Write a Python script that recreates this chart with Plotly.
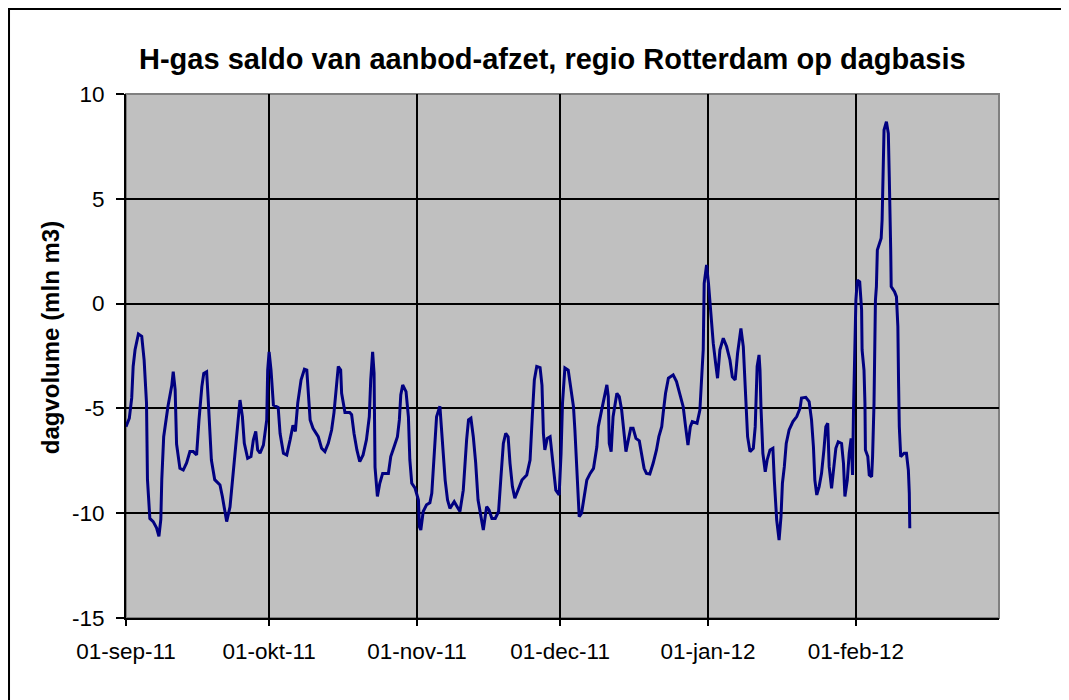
import pandas as pd
import plotly.graph_objects as go

start = pd.Timestamp("2011-09-01")

days = [
    0.0, 0.7, 1.2, 1.5, 1.9, 2.6, 3.3, 3.8, 4.3, 4.5, 5.0, 5.7, 6.4, 6.9, 7.3, 7.5, 7.9, 8.8, 9.6, 9.9,
    10.3, 10.6, 11.3, 12.0, 12.7, 13.4, 14.1, 14.8, 15.3, 15.9, 16.3, 16.9, 17.2, 17.6, 17.9, 18.6, 19.7, 20.2, 20.9,
    21.1, 21.8, 22.2, 22.9, 23.6, 23.9, 24.4, 24.8, 25.5, 26.2, 26.7, 27.2, 27.6, 28.1, 28.8, 29.5, 29.7, 30.0,
    30.4, 30.9, 31.9, 32.3, 33.0, 33.7, 34.4, 35.0, 35.5, 36.0, 36.7, 37.4, 37.9, 38.3, 38.6, 39.2, 40.3, 41.0,
    41.7, 42.4, 43.1, 43.6, 44.0, 44.5, 45.0, 45.2, 45.9, 46.9, 47.3, 47.8, 48.4, 49.0, 49.7, 50.4, 51.0, 51.3,
    51.7, 52.0, 52.2, 52.7, 53.2, 53.8, 55.0, 55.5, 56.2, 56.9, 57.3, 57.6, 58.0, 58.7, 59.2, 59.5, 59.9, 60.6,
    61.3, 61.5, 61.8, 62.3, 63.0, 63.7, 64.1, 64.6, 65.1, 65.8, 66.3, 66.9, 67.4, 67.9, 68.8, 69.5, 70.0, 70.7,
    71.1, 71.4, 71.8, 72.3, 72.8, 73.3, 73.8, 74.4, 74.9, 75.2, 75.6, 76.1, 76.7, 77.4, 78.1, 78.6, 79.1, 79.6,
    80.1, 80.5, 81.0, 81.5, 82.1, 83.0, 84.0, 84.7, 85.2, 85.6, 86.1, 86.8, 87.2, 87.5, 87.8, 88.3, 88.9, 89.4,
    89.7, 90.1, 90.8, 91.2, 91.5, 92.0, 92.7, 93.2, 93.8, 94.1, 94.5, 95.0, 95.5, 96.0, 96.6, 97.3, 98.0, 98.7,
    99.0, 99.7, 100.4, 100.8, 101.1, 101.3, 101.7, 102.1, 102.9, 103.4, 103.9, 104.4, 104.8, 105.3, 105.8,
    106.3, 106.9, 107.6, 108.1, 108.6, 109.1, 109.8, 110.5, 111.2, 111.7, 112.3, 112.6, 113.1, 113.7, 114.7,
    115.4, 116.1, 116.8, 117.3, 117.8, 118.3, 118.7, 119.7, 120.3, 120.8, 121.0, 121.2, 121.7, 122.1, 122.6,
    123.1, 123.6, 124.0, 124.5, 125.2, 125.9, 126.6, 127.1, 127.7, 128.2, 128.9, 129.4, 129.8, 130.3, 130.8,
    131.5, 131.9, 132.3, 132.7, 132.9, 133.1, 133.5, 134.0, 134.4, 135.0, 135.6, 135.9, 136.4, 136.9, 137.3,
    137.6, 138.0, 138.4, 139.0, 139.8, 140.6, 141.3, 141.6, 142.5, 143.2, 143.7, 144.1, 144.4, 144.8, 145.3,
    145.8, 146.3, 146.7, 147.1, 147.4, 147.9, 148.4, 148.8, 149.3, 150.0, 150.4, 150.7, 151.2, 151.6, 152.0,
    152.3, 152.5, 152.8, 153.0, 153.3, 153.8, 154.2, 154.3, 154.7, 154.9, 155.0, 155.5, 155.8, 156.3, 156.5,
    156.8, 157.1, 157.3, 157.5, 158.0, 158.3, 158.5, 158.6, 158.7, 158.9, 159.4, 159.8, 160.0, 160.2, 160.3,
    160.4, 161.1, 161.5, 161.8, 161.95, 162.1, 162.4, 163.1, 163.6, 164.0, 164.2, 164.3,
]
saldo = [
    -5.87, -5.47, -4.5, -3.0, -2.2, -1.45, -1.56, -2.7, -4.75, -8.4, -10.25, -10.4, -10.7, -11.1, -10.3, -8.4, -6.35, -4.9, -3.9, -3.25,
    -4.1, -6.7, -7.86, -7.94, -7.6, -7.06, -7.06, -7.22, -5.55, -3.96, -3.33, -3.25, -4.44, -5.87, -7.46, -8.4, -8.65, -9.2, -10.3,
    -10.4, -9.7, -8.7, -7.14, -5.55, -4.6, -5.4, -6.67, -7.38, -7.3, -6.5, -6.1, -6.98, -7.14, -6.75, -5.55, -3.17, -2.3,
    -3.17, -4.84, -4.95, -6.2, -7.14, -7.22, -6.5, -5.8, -6.1, -4.75, -3.64, -3.13, -3.17, -4.44, -5.55, -5.95, -6.35, -6.9,
    -7.06, -6.67, -6.03, -5.2, -4.28, -3.0, -3.17, -4.28, -5.2, -5.2, -5.3, -6.2, -6.98, -7.54, -7.22, -6.5, -5.4, -3.64,
    -2.3, -3.33, -7.8, -9.2, -8.57, -8.1, -8.1, -7.3, -6.83, -6.35, -5.55, -4.36, -3.88, -4.2, -5.4, -7.46, -8.57, -8.81,
    -9.37, -10.64, -10.8, -9.92, -9.6, -9.5, -9.05, -7.14, -5.4, -4.9, -6.35, -8.42, -9.37, -9.77, -9.45, -9.7, -9.92, -8.9,
    -7.46, -6.5, -5.55, -5.47, -6.35, -7.6, -9.37, -10.16, -10.8, -10.32, -9.69, -9.85, -10.25, -10.25, -9.92, -8.26, -6.67, -6.19,
    -6.35, -7.62, -8.73, -9.29, -8.9, -8.42, -8.18, -7.46, -5.23, -3.64, -3.0, -3.05, -3.9, -6.2, -6.98, -6.43, -6.35, -7.3,
    -8.1, -8.9, -9.13, -7.14, -4.75, -3.07, -3.17, -3.96, -4.92, -6.03, -7.94, -10.17, -10.0, -9.2, -8.42, -8.1, -7.86, -6.83,
    -5.87, -5.08, -4.2, -3.88, -4.44, -6.67, -7.06, -5.4, -4.28, -4.44, -5.08, -6.35, -7.06, -6.5, -5.95,
    -5.95, -6.43, -6.55, -7.14, -7.86, -8.1, -8.13, -7.62, -6.98, -6.35, -5.87, -5.23, -4.28, -3.56, -3.4,
    -3.72, -4.28, -4.92, -5.87, -6.75, -5.87, -5.63, -5.71, -5.08, -3.0, -2.2, 0.97, 1.84, 0.97, -0.62,
    -1.89, -2.85, -3.56, -2.2, -1.65, -2.05, -2.69, -3.49, -3.64, -2.37, -1.18, -2.05, -4.28, -6.35, -7.06,
    -6.9, -5.87, -3.0, -2.45, -3.17, -4.92, -7.14, -8.02, -7.46, -6.98, -6.9, -8.42, -10.33, -11.28, -10.17,
    -8.57, -7.78, -6.67, -6.03, -5.63, -5.39, -4.99, -4.51, -4.47, -4.68, -5.55, -6.83, -8.42, -9.13, -8.73,
    -8.1, -6.98, -5.87, -5.71, -7.78, -8.81, -7.78, -6.9, -6.59, -6.67, -7.62, -9.2, -8.42, -7.14, -6.43,
    -8.18, -5.08, -1.88, 0.17, 1.12, 1.04, -0.31, -2.21, -3.17, -4.76, -6.98, -7.3, -8.18, -8.26, -7.3,
    -4.76, 0.17, 0.81, 2.56, 2.88, 3.12, 4.0, 4.95, 6.37, 8.28, 8.68, 8.12, 6.05, 4.47, 2.56,
    0.81, 0.57, 0.33, -1.1, -3.8, -5.87, -7.3, -7.14, -7.14, -7.94, -9.05, -10.72,
]

month_ticks = ["2011-09-01", "2011-10-01", "2011-11-01", "2011-12-01", "2012-01-01", "2012-02-01"]
month_labels = ["01-sep-11", "01-okt-11", "01-nov-11", "01-dec-11", "01-jan-12", "01-feb-12"]
y_ticks = [10, 5, 0, -5, -10, -15]
y_labels = ["10", "5", "0", "-5", "-10", "-15"]

dates = start + pd.to_timedelta(days, unit="D")

FONT = "Arial, Liberation Sans, sans-serif"

fig = go.Figure()
fig.add_trace(go.Scatter(
    x=dates, y=saldo,
    mode="lines",
    line=dict(color="#000080", width=3),
    showlegend=False,
))

# grijze rand om het plotvlak
fig.add_shape(type="rect", xref="paper", yref="paper", x0=0, x1=1, y0=0, y1=1,
              line=dict(color="#808080", width=2), layer="below")
# rand om de hele grafiek
fig.add_shape(type="rect", xref="paper", yref="paper",
              x0=-0.134, x1=1.0745, y0=-0.2, y1=1.162,
              line=dict(color="black", width=2))

fig.add_annotation(
    text="<b>H-gas saldo van aanbod-afzet, regio Rotterdam op dagbasis</b>",
    xref="paper", yref="paper", x=0.488, y=1.067,
    xanchor="center", yanchor="middle", showarrow=False,
    font=dict(family=FONT, size=29, color="black"),
)
fig.add_annotation(
    text="<b>dagvolume (mln m3)</b>",
    xref="paper", yref="paper", x=-0.087, y=0.534,
    xanchor="center", yanchor="middle", textangle=-90, showarrow=False,
    font=dict(family=FONT, size=24, color="black"),
)

# de pagina heeft 8px marge, daarom figuur iets kleiner
fig.update_layout(
    width=1061, height=692,
    paper_bgcolor="white",
    plot_bgcolor="#C0C0C0",
    font=dict(family=FONT, size=22.5, color="black"),
    margin=dict(l=118, r=70, t=86, b=82),
    xaxis=dict(
        type="date",
        range=["2011-09-01", "2012-03-02"],
        tickvals=month_ticks, ticktext=month_labels,
        showgrid=True, gridcolor="black", gridwidth=1.5,
        showline=True, linecolor="black", linewidth=2,
        ticks="outside", ticklen=6, tickcolor="black", tickwidth=1.5,
        ticklabelstandoff=6,
        zeroline=False,
    ),
    yaxis=dict(
        range=[-15, 10],
        tickvals=y_ticks, ticktext=y_labels,
        showgrid=True, gridcolor="black", gridwidth=1.5,
        showline=True, linecolor="black", linewidth=2,
        ticks="outside", ticklen=8, tickcolor="black", tickwidth=1.5,
        ticklabelstandoff=7,
        zeroline=False,
    ),
)

fig.write_html("out.html")
